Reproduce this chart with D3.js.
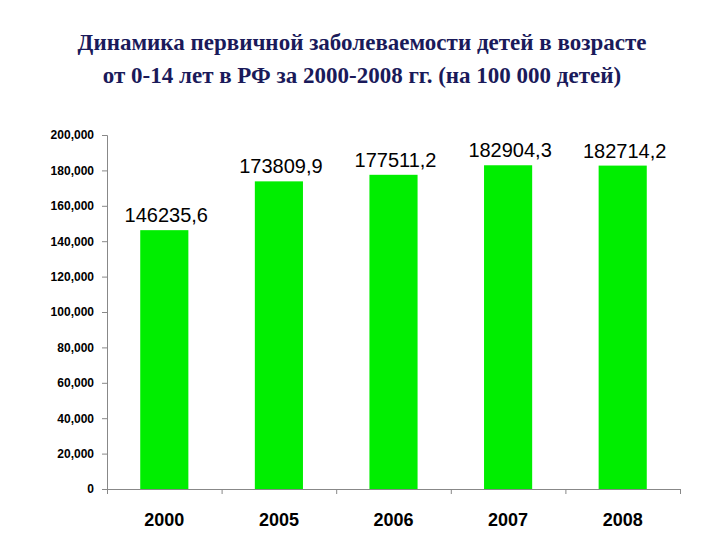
<!DOCTYPE html>
<html>
<head>
<script src="https://cdn.jsdelivr.net/npm/d3@7/dist/d3.min.js"></script>
<style>body{margin:0;background:#fff}</style>
</head>
<body>
<svg id="mainsvg" width="720" height="540"></svg>
<script>
const years = ['2000', '2005', '2006', '2007', '2008'];
const values = [146235.6, 173809.9, 177511.2, 182904.3, 182714.2];
const labels = ['146235,6', '173809,9', '177511,2', '182904,3', '182714,2'];
const yTicks = [0, 20000, 40000, 60000, 80000, 100000, 120000, 140000, 160000, 180000, 200000];

const svg = d3.select('#mainsvg');
const plotLeft = 107, plotRight = 680, plotTop = 135, plotBottom = 489;

svg.append('text').attr('x', 362).attr('y', 50).attr('text-anchor', 'middle')
    .attr('font-family', 'Liberation Serif').attr('font-weight', 'bold').attr('font-size', 23)
    .attr('fill', '#1a1a5a').text('Динамика первичной заболеваемости детей в возрасте');
svg.append('text').attr('x', 362).attr('y', 83).attr('text-anchor', 'middle')
    .attr('font-family', 'Liberation Serif').attr('font-weight', 'bold').attr('font-size', 23)
    .attr('fill', '#1a1a5a').text('от 0-14 лет в РФ за 2000-2008 гг. (на 100 000 детей)');

const x = d3.scaleBand().domain(years).range([plotLeft, plotRight]).paddingInner(0.58).paddingOuter(0.29);
const y = d3.scaleLinear().domain([0, 200000]).range([plotBottom, plotTop]);

const yAxis = svg.append('g').attr('transform', `translate(${plotLeft},0)`)
    .call(d3.axisLeft(y).tickValues(yTicks).tickSize(5).tickPadding(8));
yAxis.selectAll('text').attr('font-family', 'Liberation Sans').attr('font-weight', 'bold')
    .attr('font-size', 12).attr('fill', '#000');
yAxis.selectAll('line,path').attr('stroke', '#888');

const xb = d3.scaleLinear().domain([0, 5]).range([plotLeft, plotRight]);
const xAxis = svg.append('g').attr('transform', `translate(0,${plotBottom})`)
    .call(d3.axisBottom(xb).tickValues([0, 1, 2, 3, 4, 5]).tickSize(5).tickFormat(''));
xAxis.selectAll('line,path').attr('stroke', '#888');

svg.selectAll('.bar').data(values).join('rect').attr('class', 'bar')
    .attr('x', (d, i) => x(years[i])).attr('width', x.bandwidth())
    .attr('y', d => y(d)).attr('height', d => plotBottom - y(d)).attr('fill', '#00ee00');

svg.selectAll('.val').data(values).join('text').attr('class', 'val')
    .attr('x', (d, i) => x(years[i]) + x.bandwidth() / 2 + 2).attr('y', d => y(d) - 8)
    .attr('text-anchor', 'middle').attr('font-family', 'Liberation Sans').attr('font-size', 20)
    .text((d, i) => labels[i]);

svg.selectAll('.cat').data(years).join('text').attr('class', 'cat')
    .attr('x', d => x(d) + x.bandwidth() / 2).attr('y', 526)
    .attr('text-anchor', 'middle').attr('font-family', 'Liberation Sans').attr('font-weight', 'bold')
    .attr('font-size', 18).text(d => d);
</script>
</body>
</html>
